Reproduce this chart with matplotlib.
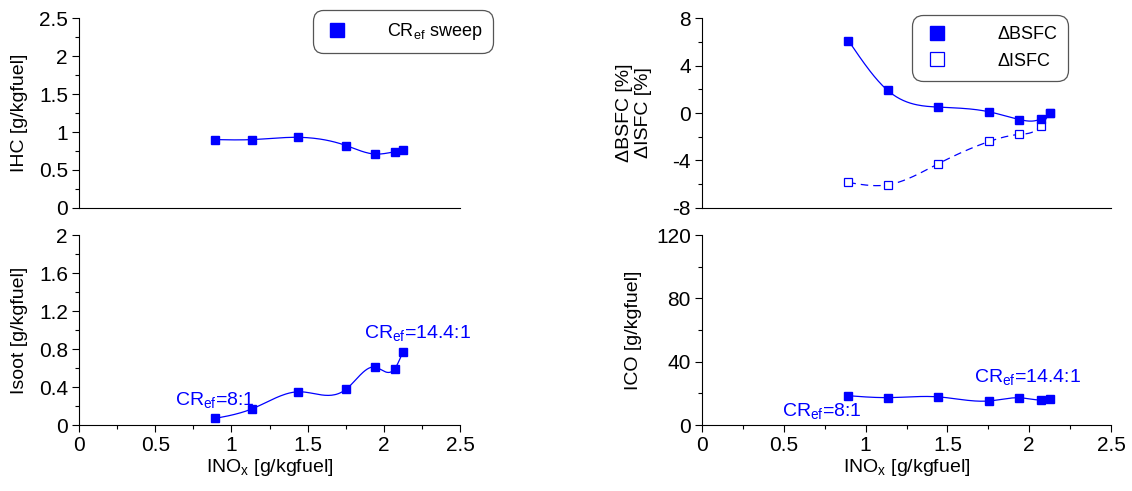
import numpy as np
import matplotlib.pyplot as plt
from matplotlib.ticker import MultipleLocator

plt.rcParams['font.family'] = ['Liberation Sans', 'DejaVu Sans']
plt.rcParams['font.size'] = 14
plt.rcParams['xtick.labelsize'] = 15
plt.rcParams['ytick.labelsize'] = 15

# data
inox = [0.895, 1.135, 1.44, 1.755, 1.94, 2.07, 2.125]
ihc = [0.90, 0.90, 0.93, 0.82, 0.71, 0.74, 0.76]
isoot = [0.07, 0.17, 0.35, 0.38, 0.61, 0.59, 0.77]
dbsfc = [6.1, 1.9, 0.5, 0.1, -0.55, -0.5, 0.0]
disfc = [-5.85, -6.05, -4.3, -2.4, -1.8, -1.1, 0.0]
ico = [18.5, 17.3, 17.8, 15.2, 17.2, 15.8, 16.2]
xticks = [0, 0.5, 1, 1.5, 2, 2.5]
xticklabels = ['0', '0.5', '1', '1.5', '2', '2.5']

BLUE = '#0000ff'


def spline(x, y, n=30):
    # natural cubic spline through the points, for the smooth connecting line
    x = np.asarray(x, float)
    y = np.asarray(y, float)
    m = len(x)
    h = np.diff(x)
    A = np.zeros((m, m))
    b = np.zeros(m)
    A[0, 0] = A[-1, -1] = 1
    for i in range(1, m - 1):
        A[i, i - 1] = h[i - 1]
        A[i, i] = 2 * (h[i - 1] + h[i])
        A[i, i + 1] = h[i]
        b[i] = 3 * ((y[i + 1] - y[i]) / h[i] - (y[i] - y[i - 1]) / h[i - 1])
    c = np.linalg.solve(A, b)
    xs, ys = [], []
    for i in range(m - 1):
        t = np.linspace(0, h[i], n)
        bi = (y[i + 1] - y[i]) / h[i] - h[i] * (2 * c[i] + c[i + 1]) / 3
        di = (c[i + 1] - c[i]) / (3 * h[i])
        xs.append(x[i] + t)
        ys.append(y[i] + bi * t + c[i] * t ** 2 + di * t ** 3)
    return np.concatenate(xs), np.concatenate(ys)


def style(ax, yticks, ylabels, show_x):
    ax.spines['top'].set_visible(False)
    ax.spines['right'].set_visible(False)
    ax.set_xlim(0, 2.5)
    ax.set_ylim(yticks[0], yticks[-1])
    ax.set_yticks(yticks)
    ax.set_yticklabels(ylabels)
    ax.yaxis.set_minor_locator(MultipleLocator((yticks[1] - yticks[0]) / 2))
    ax.tick_params(which='major', length=5, width=0.8, direction='out', pad=3)
    ax.tick_params(which='minor', length=3, width=0.8, direction='out')
    if show_x:
        ax.set_xticks(xticks)
        ax.set_xticklabels(xticklabels)
        ax.xaxis.set_minor_locator(MultipleLocator(0.25))
        ax.set_xlabel('INO$_\\mathregular{x}$ [g/kgfuel]', labelpad=1)
    else:
        ax.set_xticks([])
        ax.xaxis.set_minor_locator(plt.NullLocator())


def legend_frame(leg):
    fr = leg.get_frame()
    fr.set_boxstyle('round', pad=0, rounding_size=0.6)
    fr.set_linewidth(0.9)


fig = plt.figure(figsize=(11.32, 4.91), dpi=100)
L, W1 = 0.0698, 0.3366
R, W2 = 0.6201, 0.3614
ax1 = fig.add_axes([L, 0.5764, W1, 0.3869])
ax3 = fig.add_axes([L, 0.1344, W1, 0.3869])
ax2 = fig.add_axes([R, 0.5764, W2, 0.3869])
ax4 = fig.add_axes([R, 0.1344, W2, 0.3869])

ms = 5.5

# IHC
sx, sy = spline(inox, ihc)
ax1.plot(sx, sy, color=BLUE, lw=0.9)
h1, = ax1.plot(inox, ihc, 's', color=BLUE, ms=ms, label='CR$_\\mathregular{ef}$ sweep')
style(ax1, [0, 0.5, 1, 1.5, 2, 2.5], ['0', '0.5', '1', '1.5', '2', '2.5'], False)
ax1.set_ylabel('IHC [g/kgfuel]', labelpad=8)
leg1 = ax1.legend(handles=[h1], loc='upper right', bbox_to_anchor=(493 / 1132, 1 - 10 / 491),
                  bbox_transform=fig.transFigure, borderaxespad=0, markerscale=1.8,
                  handletextpad=2.0, handlelength=1.5, borderpad=0.6, fancybox=True,
                  edgecolor='#555555', framealpha=1, fontsize=13)
legend_frame(leg1)

# Isoot
sx, sy = spline(inox, isoot)
ax3.plot(sx, sy, color=BLUE, lw=0.9)
ax3.plot(inox, isoot, 's', color=BLUE, ms=ms)
style(ax3, [0, 0.4, 0.8, 1.2, 1.6, 2], ['0', '0.4', '0.8', '1.2', '1.6', '2'], True)
ax3.set_ylabel('Isoot [g/kgfuel]', labelpad=8)
ax3.text(0.63, 0.255, 'CR$_\\mathregular{ef}$=8:1', color=BLUE, va='center', ha='left')
ax3.text(1.87, 0.96, 'CR$_\\mathregular{ef}$=14.4:1', color=BLUE, va='center', ha='left')

# BSFC / ISFC
sx, sy = spline(inox, disfc)
ax2.plot(sx, sy, color=BLUE, lw=0.9, ls=(0, (6, 4)))
h3, = ax2.plot(inox, disfc, 's', color=BLUE, mfc='white', ms=ms, mew=0.9, label='\u0394ISFC')
sx, sy = spline(inox, dbsfc)
ax2.plot(sx, sy, color=BLUE, lw=0.9)
h2, = ax2.plot(inox, dbsfc, 's', color=BLUE, ms=ms, label='\u0394BSFC', zorder=3)
style(ax2, [-8, -4, 0, 4, 8], ['-8', '-4', '0', '4', '8'], False)
ax2.set_ylabel('\u0394BSFC [%]\n\u0394ISFC [%]', linespacing=1.15, labelpad=15)
leg2 = ax2.legend(handles=[h2, h3], loc='upper right', bbox_to_anchor=(1068 / 1132, 1 - 15 / 491),
                  bbox_transform=fig.transFigure, borderaxespad=0, markerscale=1.8,
                  handletextpad=2.6, handlelength=1.5, borderpad=0.6, labelspacing=0.55,
                  fancybox=True, edgecolor='#555555', framealpha=1, fontsize=13)
legend_frame(leg2)

# ICO
sx, sy = spline(inox, ico)
ax4.plot(sx, sy, color=BLUE, lw=0.9)
ax4.plot(inox, ico, 's', color=BLUE, ms=ms)
style(ax4, [0, 40, 80, 120], ['0', '40', '80', '120'], True)
ax4.set_ylabel('ICO [g/kgfuel]', labelpad=10)
ax4.text(0.49, 8.2, 'CR$_\\mathregular{ef}$=8:1', color=BLUE, va='center', ha='left')
ax4.text(1.66, 30, 'CR$_\\mathregular{ef}$=14.4:1', color=BLUE, va='center', ha='left')

fig.savefig('out.png', dpi=100)
